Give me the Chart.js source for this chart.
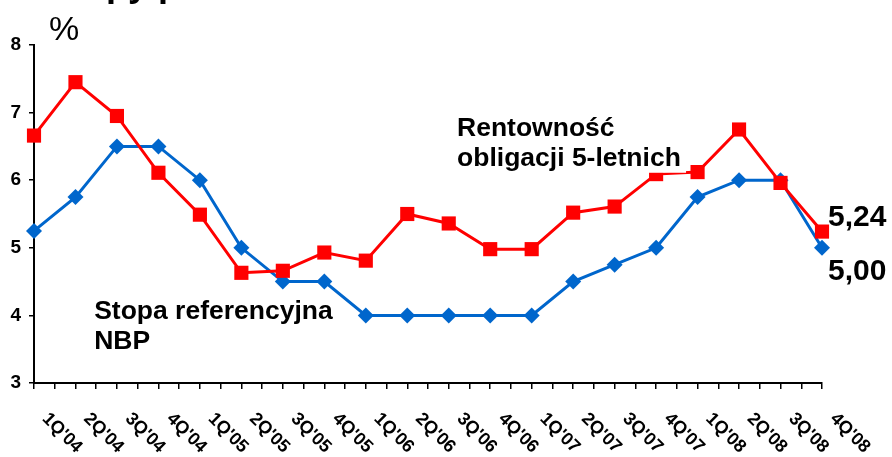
<!DOCTYPE html>
<html>
<head>
<meta charset="utf-8">
<script src="https://cdn.jsdelivr.net/npm/chart.js@4.4.1/dist/chart.umd.min.js"></script>
<style>
  html, body { margin: 0; padding: 0; background: #fff; }
</style>
</head>
<body>
<canvas id="myChart" width="892" height="457"></canvas>
<script>
// quarters on the x axis
const quarters = ["1Q'04", "2Q'04", "3Q'04", "4Q'04", "1Q'05", "2Q'05", "3Q'05", "4Q'05",
    "1Q'06", "2Q'06", "3Q'06", "4Q'06", "1Q'07", "2Q'07", "3Q'07", "4Q'07",
    "1Q'08", "2Q'08", "3Q'08", "4Q'08"];

// Rentownosc obligacji 5-letnich (red)
const bondYield = [6.66, 7.45, 6.95, 6.11, 5.49, 4.63, 4.66, 4.93, 4.81, 5.50,
    5.36, 4.98, 4.98, 5.52, 5.61, 6.09, 6.12, 6.75, 5.96, 5.24];

// Stopa referencyjna NBP (blue)
const refRate = [5.25, 5.75, 6.50, 6.50, 6.00, 5.00, 4.50, 4.50, 4.00, 4.00,
    4.00, 4.00, 4.00, 4.50, 4.75, 5.00, 5.75, 6.00, 6.00, 5.00];

const yMin = 3;
const yMax = 8;

const FONT = "'Liberation Sans', Arial, sans-serif";

function toPoints(values) {
    return values.map((v, i) => ({x: i, y: v}));
}

function fmt(v) {
    return v.toFixed(2).replace('.', ',');
}

const textPlugin = {
    id: 'texts',
    afterDatasetsDraw(chart) {
        const ctx = chart.ctx;
        const xs = chart.scales.x;
        const ys = chart.scales.y;
        ctx.save();
        ctx.fillStyle = '#000';
        ctx.textAlign = 'left';
        ctx.textBaseline = 'alphabetic';

        // label of the bond series, sits on a white box
        const bx = xs.getPixelForValue(10.2);
        const by = ys.getPixelForValue(6.66);
        const boxBottom = ys.getPixelForValue(6.11);
        ctx.fillStyle = '#fff';
        ctx.fillRect(bx - 5, by - 28, 234, boxBottom - (by - 28));
        ctx.fillStyle = '#000';
        ctx.font = "bold 26.5px " + FONT;
        ctx.fillText("Rentowność", bx, by);
        ctx.fillText("obligacji 5-letnich", bx, by + 30);

        // label of the reference rate series
        const sx = xs.getPixelForValue(1.45);
        const sy = ys.getPixelForValue(3.95);
        ctx.fillText("Stopa referencyjna", sx, sy);
        ctx.fillText("NBP", sx, sy + 30);

        // last values
        const last = quarters.length - 1;
        const lx = xs.getPixelForValue(last) + 6;
        ctx.font = "bold 30px " + FONT;
        ctx.fillText(fmt(bondYield[last]), lx, ys.getPixelForValue(bondYield[last]) - 6);
        ctx.fillText(fmt(refRate[last]), lx, ys.getPixelForValue(refRate[last]) + 32);

        // percent sign
        ctx.font = "34px " + FONT;
        ctx.fillText("%", 49, 40);

        // title cut off at the top
        ctx.font = "bold 36px " + FONT;
        ctx.fillText("Stopy procentowe", 48, -4);

        // x labels, rotated down to the right
        ctx.font = "bold 18px " + FONT;
        ctx.textBaseline = 'middle';
        const base = chart.chartArea.bottom;
        quarters.forEach((q, i) => {
            const px = xs.getPixelForValue(i);
            ctx.save();
            ctx.translate(px + 11, base + 33);
            ctx.rotate(Math.PI / 4);
            ctx.fillText(q, 0, 0);
            ctx.restore();
        });
        ctx.restore();
    }
};

new Chart(document.getElementById('myChart'), {
    type: 'line',
    data: {
        datasets: [{
                label: 'Rentowność obligacji 5-letnich',
                data: toPoints(bondYield),
                borderColor: '#ff0000',
                backgroundColor: '#ff0000',
                borderWidth: 3,
                pointStyle: 'rect',
                pointRadius: 10,
                pointBorderWidth: 0,
                tension: 0,
                clip: false
            }, {
                label: 'Stopa referencyjna NBP',
                data: toPoints(refRate),
                borderColor: '#0066cc',
                backgroundColor: '#0066cc',
                borderWidth: 3,
                pointStyle: 'rectRot',
                pointRadius: 8,
                pointBorderWidth: 0,
                tension: 0,
                clip: false
            }]
    },
    options: {
        responsive: false,
        animation: false,
        devicePixelRatio: 1,
        layout: {
            padding: {top: 45, right: 70, left: 0, bottom: 0}
        },
        plugins: {
            legend: {display: false},
            tooltip: {enabled: false}
        },
        scales: {
            x: {
                type: 'linear',
                min: 0,
                max: quarters.length - 1,
                ticks: {display: false, stepSize: 0.5, autoSkip: false},
                grid: {drawOnChartArea: false, color: '#000', tickLength: 6, lineWidth: 1.5},
                border: {color: '#000', width: 2},
                afterFit(scale) {
                    scale.height = 74;
                }
            },
            y: {
                min: yMin,
                max: yMax,
                ticks: {
                    stepSize: 1,
                    color: '#000',
                    padding: 8,
                    font: {family: FONT, size: 19, weight: 'bold'}
                },
                grid: {drawOnChartArea: false, color: '#000', tickLength: 5, lineWidth: 1.5},
                border: {color: '#000', width: 2},
                afterFit(scale) {
                    scale.width = 34;
                }
            }
        }
    },
    plugins: [textPlugin]
});
</script>
</body>
</html>
